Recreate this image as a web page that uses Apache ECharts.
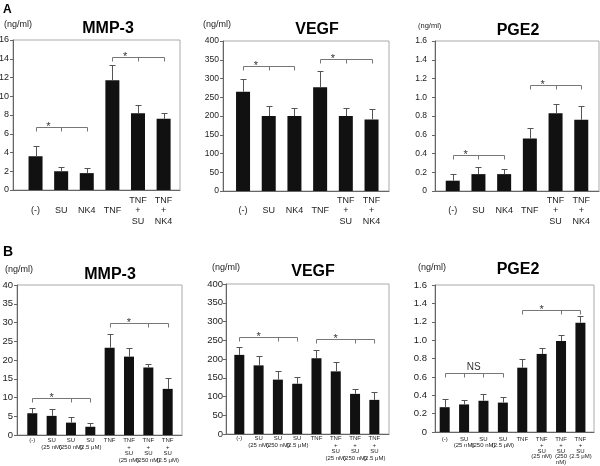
<!DOCTYPE html>
<html><head><meta charset="utf-8">
<script src="https://cdn.jsdelivr.net/npm/echarts@6/dist/echarts.min.js"></script>
<style>html,body{margin:0;padding:0;background:#fff}#c{width:600px;height:466px}</style>
</head><body><div id="c"></div>
<script>
// ---------- data ----------
const catsA = ['(-)', 'SU', 'NK4', 'TNF', 'TNF\n+\nSU', 'TNF\n+\nNK4'];
const catsB = ['(-)', 'SU\n(25 nM)', 'SU\n(250 nM)', 'SU\n(2.5 μM)', 'TNF', 'TNF\n+\nSU\n(25 nM)', 'TNF\n+\nSU\n(250 nM)', 'TNF\n+\nSU\n(2.5 μM)'];
const catsB3 = ['(-)', 'SU\n(25 nM)', 'SU\n(250 nM)', 'SU\n(2.5 μM)', 'TNF', 'TNF\n+\nSU\n(25 nM)', 'TNF\n+\nSU\n(250\nnM)', 'TNF\n+\nSU\n(2.5 μM)'];

const mmp3A = [3.6, 2.0, 1.8, 11.7, 8.2, 7.6];
const mmp3ASd = [1.1, 0.5, 0.5, 1.6, 0.9, 0.6];
const vegfA = [265, 200, 200, 277, 200, 191];
const vegfASd = [35, 28, 21, 42, 22, 27];
const pge2A = [0.11, 0.18, 0.18, 0.56, 0.83, 0.76];
const pge2ASd = [0.07, 0.08, 0.05, 0.11, 0.10, 0.15];

const mmp3B = [5.8, 5.1, 3.3, 2.2, 23.3, 20.9, 18.0, 12.3];
const mmp3BSd = [1.3, 1.8, 1.4, 1.1, 3.6, 2.2, 0.9, 2.8];
const vegfB = [211, 183, 145, 134, 202, 167, 107, 91];
const vegfBSd = [21, 24, 22, 19, 22, 26, 14, 20];
const pge2B = [0.27, 0.30, 0.34, 0.32, 0.70, 0.85, 0.99, 1.19];
const pge2BSd = [0.09, 0.05, 0.07, 0.06, 0.10, 0.06, 0.07, 0.07];

const sigMmp3A = [{ticks: [0, 1, 2], y: 6.7, mark: '*', at: 0.5}, {ticks: [3, 4, 5], y: 14.2, mark: '*', at: 3.5}];
const sigVegfA = [{ticks: [0, 1, 2], y: 333, mark: '*', at: 0.5}, {ticks: [3, 4, 5], y: 351, mark: '*', at: 3.5}];
const sigPge2A = [{ticks: [0, 1, 2], y: 0.38, mark: '*', at: 0.5}, {ticks: [3, 4, 5], y: 1.13, mark: '*', at: 3.5}];
const sigMmp3B = [{ticks: [0, 2, 3], y: 10, mark: '*', at: 1}, {ticks: [4, 6, 7], y: 30, mark: '*', at: 5}];
const sigVegfB = [{ticks: [0, 2, 3], y: 258, mark: '*', at: 1}, {ticks: [4, 6, 7], y: 253, mark: '*', at: 5}];
const sigPge2B = [{ticks: [0, 1, 2, 3], y: 0.64, mark: 'NS', at: 1.5}, {ticks: [4, 6, 7], y: 1.333, mark: '*', at: 5}];

const titles = ['MMP-3', 'VEGF', 'PGE2', 'MMP-3', 'VEGF', 'PGE2'];
const unitText = '(ng/ml)';
const panelLetters = ['A', 'B'];

// ---------- layout ----------
const FONT = '"Liberation Sans", Arial, sans-serif';
const panels = [
  {cats: catsA, vals: mmp3A, sd: mmp3ASd, sig: sigMmp3A, ymax: 16, step: 2, dec: 0,
   g: {left: 13, top: 40, width: 167, height: 150}, xmin: -0.88, xmax: 5.64, barW: 14,
   yFont: 9, yMargin: 4, lab: {fs: 9, lh: 10.5, va: 'middle', d: 21},
   title: [108, 29], unit: [4, 24.5, 9]},
  {cats: catsA, vals: vegfA, sd: vegfASd, sig: sigVegfA, ymax: 400, step: 50, dec: 0,
   g: {left: 223, top: 41, width: 166, height: 150}, xmin: -0.78, xmax: 5.68, barW: 14,
   yFont: 8.5, yMargin: 4, lab: {fs: 9, lh: 10.5, va: 'middle', d: 20},
   title: [317, 29.5], unit: [203, 24.5, 9]},
  {cats: catsA, vals: pge2A, sd: pge2ASd, sig: sigPge2A, ymax: 1.6, step: 0.2, dec: 1,
   g: {left: 435, top: 41, width: 164, height: 150}, xmin: -0.69, xmax: 5.69, barW: 14,
   yFont: 8.5, yMargin: 8, lab: {fs: 9, lh: 10.5, va: 'middle', d: 20},
   title: [518, 30.5], unit: [418, 25.5, 7.5]},
  {cats: catsB, vals: mmp3B, sd: mmp3BSd, sig: sigMmp3B, ymax: 40, step: 5, dec: 0,
   g: {left: 17, top: 285, width: 165, height: 150}, xmin: -0.79, xmax: 7.74, barW: 10,
   yFont: 9.5, yMargin: 4, lab: {fs: 6, lh: 6.6, va: 'top', d: 2},
   title: [110, 275], unit: [5, 269.5, 9]},
  {cats: catsB, vals: vegfB, sd: vegfBSd, sig: sigVegfB, ymax: 400, step: 50, dec: 0,
   g: {left: 226, top: 284, width: 163, height: 150}, xmin: -0.69, xmax: 7.76, barW: 10,
   yFont: 9.5, yMargin: 3, lab: {fs: 6, lh: 6.6, va: 'top', d: 1},
   title: [313, 272], unit: [212, 268, 9]},
  {cats: catsB3, vals: pge2B, sd: pge2BSd, sig: sigPge2B, ymax: 1.6, step: 0.2, dec: 1,
   g: {left: 435, top: 285, width: 159, height: 147}, xmin: -0.5, xmax: 7.7, barW: 10,
   yFont: 9.5, yMargin: 8, lab: {fs: 6, lh: 5.6, va: 'top', d: 5},
   title: [518, 270], unit: [418, 267.5, 9]}
];

const chart = echarts.init(document.getElementById('c'), null, {renderer: 'canvas'});
const grids = [], xAxes = [], yAxes = [], series = [], graphics = [];
const crisp = v => Math.round(v) + 0.5;

panels.forEach((p, i) => {
  grids.push(Object.assign({show: true, borderColor: '#aaa', borderWidth: 1, backgroundColor: 'transparent',
    containLabel: false, outerBoundsMode: 'none'}, p.g));
  xAxes.push({type: 'value', gridIndex: i, min: p.xmin, max: p.xmax,
    axisLine: {show: true, onZero: false, lineStyle: {color: '#666', width: 1}},
    axisTick: {show: false}, axisLabel: {show: false}, splitLine: {show: false}});
  yAxes.push({type: 'value', gridIndex: i, min: 0, max: p.ymax, interval: p.step,
    axisLine: {show: true, onZero: false, lineStyle: {color: '#666', width: 1}},
    axisTick: {show: true, length: 3, inside: false, lineStyle: {color: '#666'}},
    splitLine: {show: false},
    axisLabel: {fontSize: p.yFont, fontFamily: FONT, color: '#222', margin: p.yMargin,
      formatter: v => (p.dec && v !== 0) ? v.toFixed(p.dec) : String(Math.round(v * 100) / 100)}});

  series.push({type: 'bar', xAxisIndex: i, yAxisIndex: i, barWidth: p.barW, silent: true,
    data: p.vals.map((v, k) => [k, v]),
    itemStyle: {color: '#111'},
    label: {show: true, position: 'bottom', distance: p.lab.d, verticalAlign: p.lab.va,
      align: 'center', fontSize: p.lab.fs, lineHeight: p.lab.lh, fontFamily: FONT, color: '#222',
      formatter: q => p.cats[q.dataIndex]}
  });

  series.push({type: 'custom', xAxisIndex: i, yAxisIndex: i, silent: true, z: 5,
    data: p.vals.map((v, k) => [k, v, p.sd[k]]),
    renderItem: (params, api) => {
      const x = api.value(0), v = api.value(1), s = api.value(2);
      const b = api.coord([x, v]), t = api.coord([x, v + s]);
      const cx = crisp(b[0]), ty = crisp(t[1]);
      const st = {stroke: '#555', lineWidth: 1};
      return {type: 'group', children: [
        {type: 'line', shape: {x1: cx, y1: b[1], x2: cx, y2: ty}, style: st},
        {type: 'line', shape: {x1: cx - 3, y1: ty, x2: cx + 3, y2: ty}, style: st}
      ]};
    }
  });

  series.push({type: 'custom', xAxisIndex: i, yAxisIndex: i, silent: true, z: 5,
    data: p.sig.map(s => [s.ticks[0], s.y]),
    renderItem: (params, api) => {
      const s = p.sig[params.dataIndex];
      const first = api.coord([s.ticks[0], s.y]);
      const last = api.coord([s.ticks[s.ticks.length - 1], s.y]);
      const y = crisp(first[1]);
      const st = {stroke: '#777', lineWidth: 1};
      const ch = [{type: 'line', shape: {x1: crisp(first[0]), y1: y, x2: crisp(last[0]), y2: y}, style: st}];
      s.ticks.forEach(tk => {
        const c = api.coord([tk, s.y]);
        ch.push({type: 'line', shape: {x1: crisp(c[0]), y1: y, x2: crisp(c[0]), y2: y + 4}, style: st});
      });
      const m = api.coord([s.at, s.y]);
      const isStar = s.mark === '*';
      ch.push({type: 'text', style: {text: s.mark, x: m[0], y: y - (isStar ? 1 : 6),
        align: 'center', verticalAlign: 'middle', textAlign: 'center', textVerticalAlign: 'middle',
        fontSize: isStar ? 11 : 10, fontFamily: FONT, fill: '#333'}});
      return {type: 'group', children: ch};
    }
  });

  graphics.push({type: 'text', x: p.title[0], y: p.title[1],
    style: {text: titles[i], fontSize: 16, fontWeight: 'bold', fontFamily: FONT, fill: '#000',
      align: 'center', verticalAlign: 'middle', textAlign: 'center', textVerticalAlign: 'middle'}});
  graphics.push({type: 'text', x: p.unit[0], y: p.unit[1],
    style: {text: unitText, fontSize: p.unit[2], fontFamily: FONT, fill: '#222',
      align: 'left', verticalAlign: 'middle', textAlign: 'left', textVerticalAlign: 'middle'}});
});

graphics.push({type: 'text', x: 3, y: 9.5,
  style: {text: panelLetters[0], fontSize: 12, fontWeight: 'bold', fontFamily: FONT, fill: '#000',
    align: 'left', verticalAlign: 'middle', textAlign: 'left', textVerticalAlign: 'middle'}});
graphics.push({type: 'text', x: 3, y: 252,
  style: {text: panelLetters[1], fontSize: 14, fontWeight: 'bold', fontFamily: FONT, fill: '#000',
    align: 'left', verticalAlign: 'middle', textAlign: 'left', textVerticalAlign: 'middle'}});

chart.setOption({
  animation: false,
  backgroundColor: '#fff',
  grid: grids, xAxis: xAxes, yAxis: yAxes, series: series, graphic: graphics
});
</script></body></html>
